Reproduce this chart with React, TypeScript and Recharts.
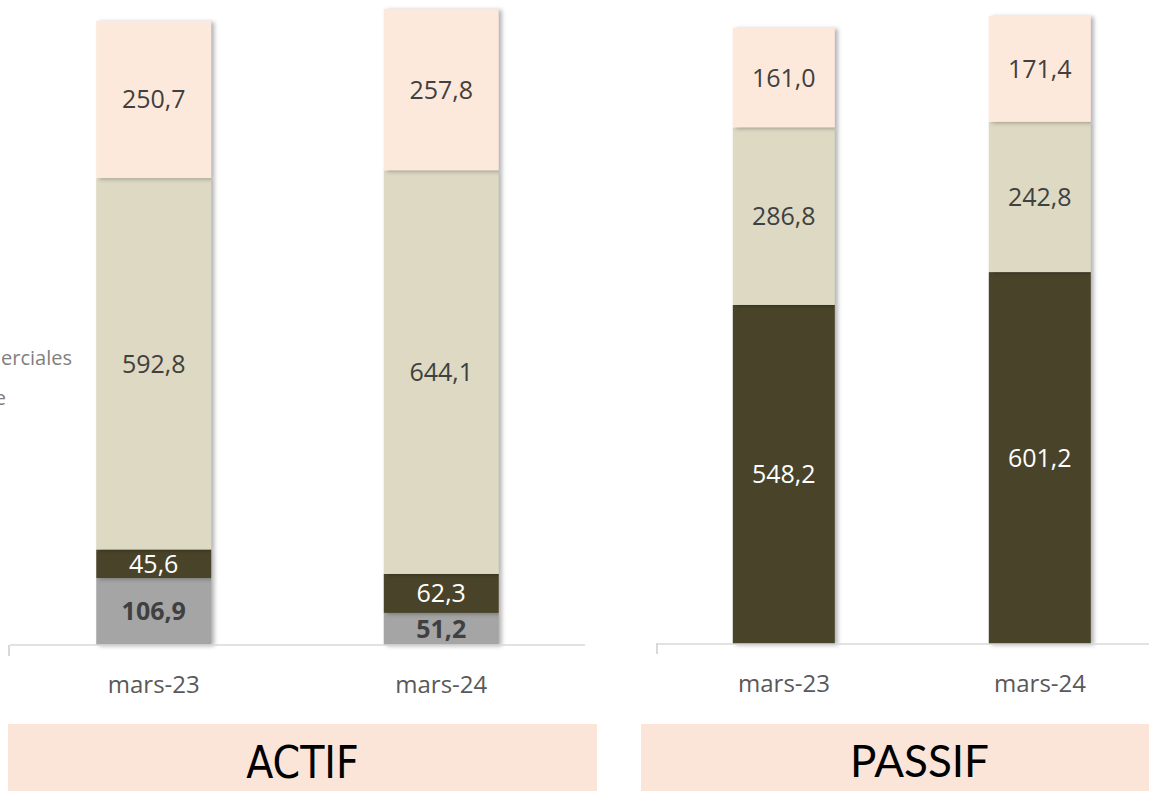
import React from 'react';
import { BarChart, Bar, XAxis, YAxis, LabelList } from 'recharts';

const categories = ['mars-23', 'mars-24'];
// ACTIF (bottom to top)
const actifTresorerie = [106.9, 51.2];
const actifAutres = [45.6, 62.3];
const actifCreances = [592.8, 644.1];
const actifImmobilise = [250.7, 257.8];
// PASSIF (bottom to top)
const passifCapitaux = [548.2, 601.2];
const passifDettesFin = [286.8, 242.8];
const passifDettesExpl = [161.0, 171.4];

const legendTexts = ['Créances commerciales', 'Trésorerie active'];
const titles = ['ACTIF', 'PASSIF'];

const actifData = categories.map((cat, i) => ({
  cat,
  tres: actifTresorerie[i],
  autres: actifAutres[i],
  creances: actifCreances[i],
  immo: actifImmobilise[i],
}));
const passifData = categories.map((cat, i) => ({
  cat,
  cap: passifCapitaux[i],
  fin: passifDettesFin[i],
  expl: passifDettesExpl[i],
}));

const PINK = '#FDE9DC';
const BEIGE = '#DDD9C3';
const DARK = '#494429';
const GRAY = '#A5A5A5';
const FONT = '"Open Sans", "Noto Sans", sans-serif';

const fmt = (v: any) => (typeof v === 'number' ? v.toFixed(1).replace('.', ',') : v);

const ShadowRect = (props: any) => {
  const { x, y, width, height, fill } = props;
  if (width == null || height == null) return null;
  return (
    <rect
      x={x}
      y={y}
      width={width}
      height={height}
      fill={fill}
      style={{ filter: 'drop-shadow(3px 1px 2px rgba(0,0,0,0.3))' }}
    />
  );
};

const labelStyle = (color: string, bold = false) => ({
  fill: color,
  fontSize: 25,
  fontFamily: FONT,
  fontWeight: bold ? 700 : 400,
});

const xAxisProps = {
  dataKey: 'cat',
  axisLine: { stroke: '#D9D9D9', strokeWidth: 1.5 },
  tickLine: false,
  tickSize: 0,
  tickMargin: 31,
  height: 60,
  tick: { fill: '#595959', fontSize: 24, fontFamily: FONT },
  interval: 0 as const,
};

export default function App() {
  return (
    <div
      style={{
        position: 'fixed',
        left: 0,
        top: 0,
        width: 1149,
        height: 791,
        overflow: 'hidden',
        background: '#FFFFFF',
      }}
    >
      {/* legend texts, cut off at the left edge as in the reference */}
      <div
        style={{
          position: 'absolute',
          right: 1149 - 72,
          top: 344,
          whiteSpace: 'nowrap',
          fontFamily: FONT,
          fontSize: 20,
          color: '#7F7F7F',
        }}
      >
        {legendTexts[0]}
      </div>
      <div
        style={{
          position: 'absolute',
          right: 1149 - 6,
          top: 384,
          whiteSpace: 'nowrap',
          fontFamily: FONT,
          fontSize: 20,
          color: '#7F7F7F',
        }}
      >
        {legendTexts[1]}
      </div>

      <div style={{ position: 'absolute', left: 0, top: 0 }}>
        <BarChart
          width={600}
          height={791}
          data={actifData}
          margin={{ top: 6, right: 15, left: 10, bottom: 86 }}
          barCategoryGap="30%"
        >
          <XAxis {...xAxisProps} />
          <YAxis hide domain={[0, 1020]} />
          <Bar dataKey="tres" stackId="a" fill={GRAY} isAnimationActive={false} shape={ShadowRect}>
            <LabelList dataKey="tres" position="center" formatter={fmt} style={labelStyle('#404040', true)} />
          </Bar>
          <Bar dataKey="autres" stackId="a" fill={DARK} isAnimationActive={false} shape={ShadowRect}>
            <LabelList dataKey="autres" position="center" formatter={fmt} style={labelStyle('#FFFFFF')} />
          </Bar>
          <Bar dataKey="creances" stackId="a" fill={BEIGE} isAnimationActive={false} shape={ShadowRect}>
            <LabelList dataKey="creances" position="center" formatter={fmt} style={labelStyle('#404040')} />
          </Bar>
          <Bar dataKey="immo" stackId="a" fill={PINK} isAnimationActive={false} shape={ShadowRect}>
            <LabelList dataKey="immo" position="center" formatter={fmt} style={labelStyle('#404040')} />
          </Bar>
        </BarChart>
      </div>

      <div style={{ position: 'absolute', left: 640, top: 0 }}>
        <BarChart
          width={540}
          height={791}
          data={passifData}
          margin={{ top: 13, right: 12, left: 16, bottom: 87 }}
          barCategoryGap="30%"
        >
          <XAxis {...xAxisProps} />
          <YAxis hide domain={[0, 1020]} />
          <Bar dataKey="cap" stackId="p" fill={DARK} isAnimationActive={false} shape={ShadowRect}>
            <LabelList dataKey="cap" position="center" formatter={fmt} style={labelStyle('#FFFFFF')} />
          </Bar>
          <Bar dataKey="fin" stackId="p" fill={BEIGE} isAnimationActive={false} shape={ShadowRect}>
            <LabelList dataKey="fin" position="center" formatter={fmt} style={labelStyle('#404040')} />
          </Bar>
          <Bar dataKey="expl" stackId="p" fill={PINK} isAnimationActive={false} shape={ShadowRect}>
            <LabelList dataKey="expl" position="center" formatter={fmt} style={labelStyle('#404040')} />
          </Bar>
        </BarChart>
      </div>

      {/* axis end tick marks */}
      <div style={{ position: 'absolute', left: 8, top: 645, width: 1.5, height: 11, background: '#D9D9D9' }} />
      <div style={{ position: 'absolute', left: 656, top: 643, width: 1.5, height: 11, background: '#D9D9D9' }} />

      {/* titles */}
      <svg style={{ position: 'absolute', left: 0, top: 0 }} width={1149} height={791}>
        <rect x={8} y={724} width={589} height={70} fill="#FAE5D8" />
        <rect x={641} y={724} width={557} height={70} fill="#FAE5D8" />
        <text
          x={302.5}
          y={778}
          textAnchor="middle"
          fontFamily='"Liberation Sans Narrow", "DejaVu Sans Condensed", sans-serif'
          fontSize={44}
          fill="#000000"
        >
          {titles[0]}
        </text>
        <text x={919.5} y={777} textAnchor="middle" fontFamily="Lato, sans-serif" fontSize={44} fill="#000000">
          {titles[1]}
        </text>
      </svg>
    </div>
  );
}
